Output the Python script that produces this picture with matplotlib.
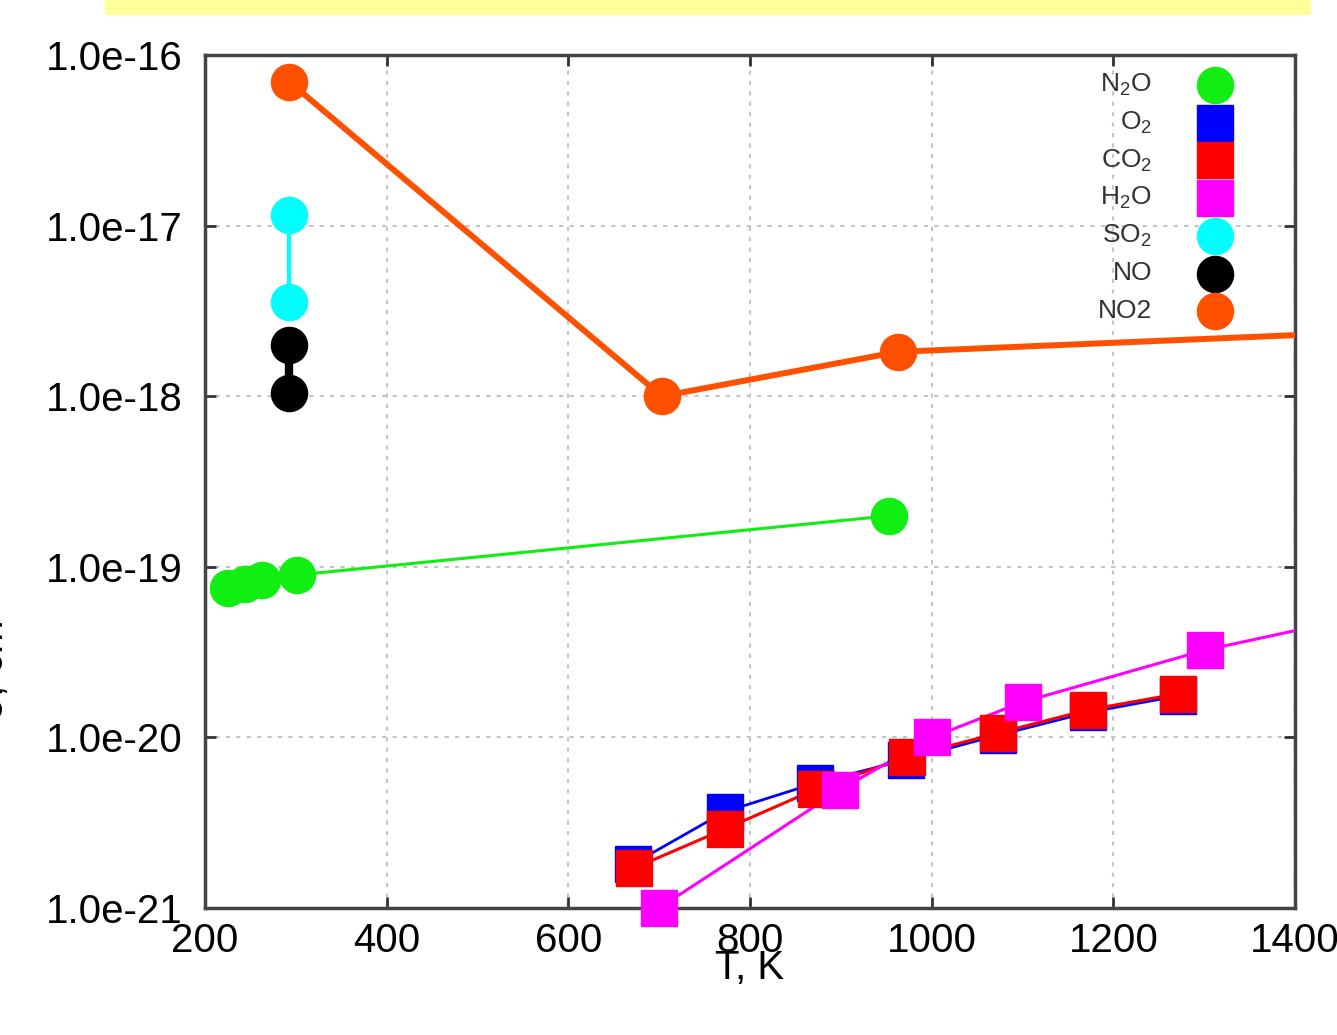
import matplotlib.pyplot as plt
import numpy as np
from matplotlib.patches import Rectangle

plt.rcParams['font.family'] = ['Liberation Sans', 'DejaVu Sans']
plt.rcParams['mathtext.fontset'] = 'custom'
plt.rcParams['mathtext.rm'] = 'Liberation Sans'

# cross sections vs temperature
t_n2o = [225, 244, 263, 301, 953]
s_n2o = [7.5e-20, 7.9e-20, 8.4e-20, 8.95e-20, 1.99e-19]

t_o2 = [671, 772, 872, 972, 1073, 1172, 1271]
s_o2 = [1.81e-21, 3.66e-21, 5.4e-21, 7.4e-21, 1.03e-20, 1.4e-20, 1.75e-20]

t_co2 = [672, 772, 873, 973, 1073, 1172, 1271]
s_co2 = [1.71e-21, 2.9e-21, 4.99e-21, 7.68e-21, 1.06e-20, 1.45e-20, 1.8e-20]

t_h2o = [700, 899, 1000, 1100, 1301, 1500]
s_h2o = [1.0e-21, 4.92e-21, 1.0e-20, 1.61e-20, 3.25e-20, 5.5e-20]

t_so2 = [293, 293]
s_so2 = [1.15e-17, 3.56e-18]

t_no = [293, 293]
s_no = [2.0e-18, 1.04e-18]

t_no2 = [293, 703, 963, 1500]
s_no2 = [6.95e-17, 1.0e-18, 1.82e-18, 2.4e-18]

labels = ["N$_2$O", "O$_2$", "CO$_2$", "H$_2$O", "SO$_2$", "NO", "NO2"]
yticks = [1e-16, 1e-17, 1e-18, 1e-19, 1e-20, 1e-21]
ytick_labels = ["1.0e-16", "1.0e-17", "1.0e-18", "1.0e-19", "1.0e-20", "1.0e-21"]

fig = plt.figure(figsize=(13.37, 10.35), dpi=100)
fig.patches.append(Rectangle((105 / 1337, 1 - 14 / 1035), 1205 / 1337, 14 / 1035,
                             transform=fig.transFigure, color='#ffff99', zorder=0))
ax = fig.add_axes([205 / 1337, 1 - 908 / 1035, 1090 / 1337, 853 / 1035])

series = [
    (t_n2o, s_n2o, '#11ee11', 'o', 2.2),
    (t_o2, s_o2, '#0000ff', 's', 2.0),
    (t_co2, s_co2, '#ff0000', 's', 2.2),
    (t_h2o, s_h2o, '#ff00ff', 's', 2.2),
    (t_so2, s_so2, '#00ffff', 'o', 3.0),
    (t_no, s_no, 'black', 'o', 6.0),
    (t_no2, s_no2, '#ff5000', 'o', 4.3),
]
for i, (t, s, c, m, lw) in enumerate(series):
    t = np.array(t)
    s = np.array(s)
    ax.plot(t, s, color=c, lw=lw, zorder=3)
    inside = t <= 1400
    ax.plot(t[inside], s[inside], ls='none', marker=m, ms=26, color=c,
            mec=c, clip_on=False, zorder=4)
    # legend entry, drawn by hand
    ly = 1 - (85 + 37.7 * i - 55) / 853
    ax.plot([(1215 - 205) / 1090], [ly], transform=ax.transAxes, ls='none',
            marker=m, ms=26, color=c, clip_on=False, zorder=5)
    ax.text((1152 - 205) / 1090, ly, labels[i], transform=ax.transAxes, ha='right',
            va='center', fontsize=19, color='#333333', zorder=5)

ax.set_yscale('log')
ax.set_xlim(200, 1400)
ax.set_ylim(1e-21, 1e-16)
ax.set_yticks(yticks)
ax.set_yticklabels(ytick_labels)
ax.minorticks_off()
ax.set_xticks(range(200, 1401, 200))
ax.tick_params(direction='in', length=8, width=2, color='#333333', labelsize=29,
               top=True, right=True)
ax.tick_params(axis='y', pad=16)
ax.tick_params(axis='x', pad=10)
ax.grid(True, ls=(0, (2, 3)), color='#c4c4c4', lw=1.5)
for sp in ax.spines.values():
    sp.set_linewidth(2.5)
    sp.set_color('#444444')
ax.set_xlabel("T, K", fontsize=29, labelpad=-8)
fig.text(-0.008, 0.36, "σ, cm$^2$", rotation=90, fontsize=29, ha='center', va='center')

fig.savefig("out.png", dpi=100)
